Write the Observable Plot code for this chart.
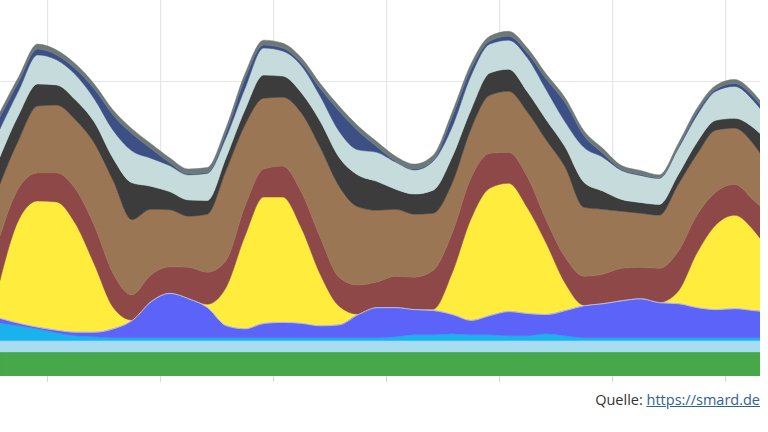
<!DOCTYPE html>
<html><head><meta charset="utf-8">
<script src="https://cdn.jsdelivr.net/npm/d3@7"></script>
<script src="https://cdn.jsdelivr.net/npm/@observablehq/plot@0.6"></script>
<style>
body{margin:0;background:#fff;}
#wrap{position:relative;width:768px;height:432px;overflow:hidden;}
#cap{position:absolute;right:8px;top:391px;font-family:"Open Sans",Lato,sans-serif;font-size:14.5px;line-height:18px;color:#333;white-space:nowrap;}
#cap a{color:#2e6296;text-decoration:underline;}
</style></head><body>
<div id="wrap"><div id="chart"></div><div id="cap">Quelle: <a href="https://smard.de">https://smard.de</a></div></div>
<script>
// hours since day 1, 00:00
const hours = [7,9,11,13,15,17,19,21,23,25,27,29,31,33,35,37,39,41,43,45,47,49,51,53,55,57,59,61,63,65,67,69,71,73,75,77,79,81,83,85,87,88];
const gridHours = [12,24,36,48,60,72,84];
const gridValues = [60];
// GW
const biomasse = [4.9,4.9,4.9,4.9,4.9,4.9,4.9,4.9,4.9,4.9,4.9,4.9,4.9,4.9,4.9,4.9,4.9,4.9,4.9,4.9,4.9,4.9,4.9,4.9,4.9,4.9,4.9,4.9,4.9,4.9,4.9,4.9,4.9,4.9,4.9,4.9,4.9,4.9,4.9,4.9,4.9,4.9];
const wasserkraft = [2.3,2.3,2.3,2.3,2.3,2.3,2.3,2.3,2.3,2.3,2.3,2.3,2.3,2.3,2.3,2.3,2.3,2.3,2.3,2.3,2.3,2.3,2.3,2.3,2.3,2.3,2.3,2.3,2.3,2.3,2.3,2.3,2.3,2.3,2.3,2.3,2.3,2.3,2.3,2.3,2.3,2.3];
const windOffshore = [3.6,3.0,2.4,1.6,1.0,0.8,0.6,0.6,0.6,0.6,0.6,0.6,0.6,0.6,0.6,0.6,0.6,0.6,0.6,0.6,0.6,0.8,1.2,1.2,1.4,1.2,1.2,1.0,1.0,1.4,1.0,0.6,0.6,0.6,0.6,0.6,0.6,0.6,0.6,0.6,0.6,0.6];
const windOnshore = [1.0,0.6,0.4,0.6,0.8,1.0,1.9,3.6,7.4,9.1,8.0,6.2,2.5,1.9,3.0,3.2,3.0,2.5,2.7,4.8,6.2,6.0,5.2,5.0,4.0,3.0,4.0,5.0,4.6,4.0,5.2,6.6,7.0,7.6,8.0,7.2,7.0,6.2,5.8,6.0,5.6,5.4];
const photovoltaik = [7.7,21.0,25.6,26.0,22.0,13.8,4.3,0,0,0,0,0.6,7.7,18.7,25.6,25.4,19.3,10.4,3.7,0,0,0,0,0.2,8.3,20.5,25.8,26.0,21.4,14.4,5.5,0,0,0,0,0,2.4,11.0,17.1,18.9,16.3,14.0];
const kernenergie = [9.0,6.5,5.7,5.9,7.1,7.9,6.9,5.1,5.3,5.3,6.3,6.5,5.5,6.1,5.7,6.3,7.3,7.5,5.9,5.9,5.1,6.3,6.5,7.9,8.1,8.3,7.1,6.3,6.3,4.7,5.3,5.9,5.9,6.5,6.3,6.9,8.1,7.7,6.7,6.3,6.1,6.9];
const braunkohle = [10.6,9.8,13.6,13.8,14.0,16.7,18.9,15.3,13.4,11.6,10.4,11.8,18.3,16.5,14.4,14.0,16.1,18.3,18.5,15.9,14.6,13.6,12.8,11.6,10.2,10.0,11.8,12.4,13.2,16.3,18.3,14.0,13.2,11.6,11.0,10.8,13.6,12.4,12.6,11.4,11.4,10.4];
const steinkohle = [5.5,5.1,4.5,4.1,4.1,4.3,4.5,7.5,4.7,3.7,3.3,2.8,2.6,3.1,4.7,4.3,4.1,5.3,5.9,6.5,5.9,4.1,4.1,4.7,5.3,3.9,4.5,4.5,4.1,4.1,4.1,5.1,3.7,2.4,2.2,2.2,2.0,2.4,2.0,2.0,3.3,4.3];
const erdgas = [5.7,4.9,5.9,5.1,5.1,4.7,5.7,6.5,5.7,5.3,5.1,5.5,4.1,4.3,5.5,5.1,5.5,5.1,5.3,5.1,5.9,5.5,4.9,5.9,6.1,6.9,5.9,5.9,6.9,6.1,5.1,7.1,6.9,5.9,5.5,5.3,5.3,5.5,5.9,6.5,5.5,4.9];
const pumpspeicher = [2.4,1.8,1.2,1.0,1.2,2.0,3.1,3.5,2.0,0.6,0.2,0.2,1.0,2.0,0.6,0.6,0.6,1.6,4.1,3.9,1.2,0.2,0.2,0.2,2.0,1.4,0.6,0.8,1.0,2.2,3.9,2.4,0.8,0.2,0.2,0.1,0.2,0.6,0.4,0.6,0.8,0.8];
const sonstigeKonv = [1.0,1.0,1.0,1.0,1.0,1.0,1.0,1.0,1.0,1.0,1.0,1.0,1.0,1.0,1.0,1.0,1.0,1.0,1.0,1.0,1.0,1.0,1.0,1.0,1.0,1.0,1.0,1.0,1.0,1.0,1.0,1.0,1.0,0.8,0.8,0.6,0.8,0.8,0.8,0.8,0.8,0.8];

const seriesNames = ["Biomasse","Wasserkraft","Wind Offshore","Wind Onshore","Photovoltaik","Kernenergie","Braunkohle","Steinkohle","Erdgas","Pumpspeicher","Sonstige Konventionelle"];
const seriesValues = [biomasse,wasserkraft,windOffshore,windOnshore,photovoltaik,kernenergie,braunkohle,steinkohle,erdgas,pumpspeicher,sonstigeKonv];
const seriesColors = ["#47a84b","#a8dcf0","#1ab2ec","#5b63f9","#ffec3d","#8f4848","#9b7655","#3c3c3c","#c5dbdc","#3d5086","#6c7977"];

const table = [];
seriesNames.forEach((name, k) => hours.forEach((h, i) => table.push({hour: h, series: name, value: seriesValues[k][i]})));
const windTop = hours.map((h, i) => ({hour: h, value: biomasse[i] + wasserkraft[i] + windOffshore[i] + windOnshore[i]}));

const chart = Plot.plot({
  width: 768, height: 385,
  marginTop: 0, marginRight: 8, marginBottom: 9, marginLeft: 0,
  x: {domain: [7, 87.7], label: null},
  y: {domain: [0, 76.47], axis: null, label: null},
  color: {domain: seriesNames, range: seriesColors},
  marks: [
    Plot.ruleX(gridHours, {stroke: "#e6e6e6", strokeWidth: 1.2}),
    Plot.ruleY(gridValues, {stroke: "#e6e6e6", strokeWidth: 1.2}),
    Plot.areaY(table, {x: "hour", y: "value", fill: "series", stroke: "series", strokeWidth: 0.5, order: seriesNames, curve: "monotone-x", clip: true}),
    Plot.lineY(windTop, {x: "hour", y: "value", stroke: "#b9b9f0", strokeWidth: 1, curve: "monotone-x", clip: true}),
    Plot.axisX({ticks: gridHours, tickFormat: () => "", tickSize: 6, stroke: "#d4d4d4", label: null})
  ]
});
document.getElementById("chart").appendChild(chart);
</script>
</body></html>
